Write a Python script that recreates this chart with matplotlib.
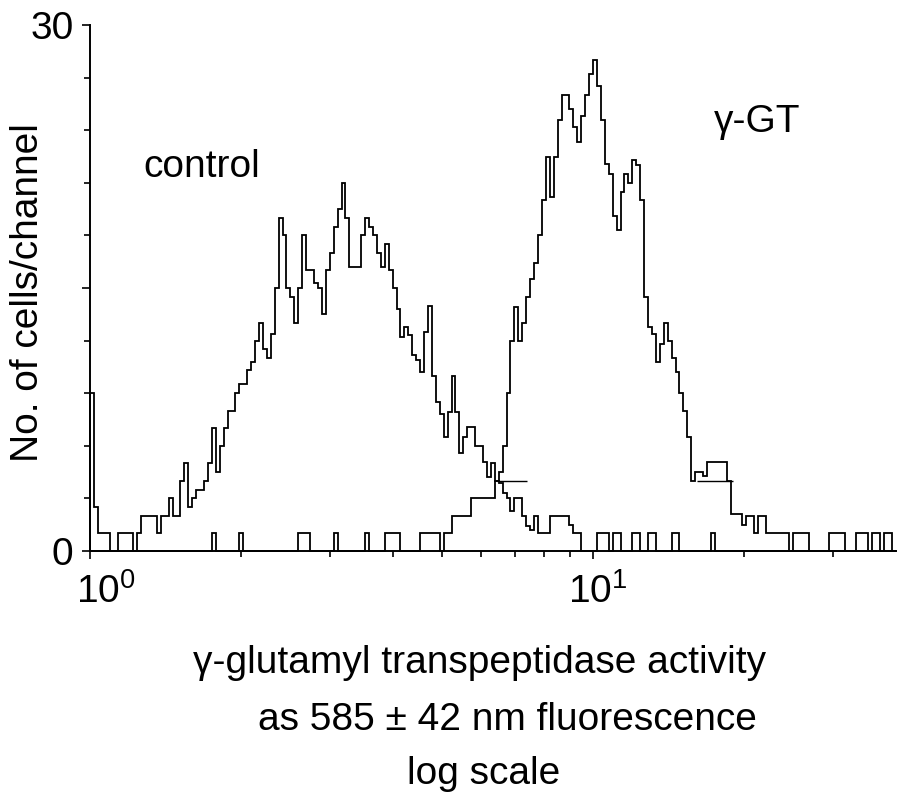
import numpy as np
import matplotlib
matplotlib.use('Agg')
import matplotlib.pyplot as plt
from matplotlib.transforms import ScaledTranslation

plt.rcParams['font.family'] = ['Liberation Sans', 'DejaVu Sans']
plt.rcParams['mathtext.fontset'] = 'custom'
plt.rcParams['mathtext.rm'] = 'Liberation Sans'

# --- histogram data, 128 channels per decade starting at 10^0
ch_per_decade = 128

control = [9, 2.5, 1, 1, 1, 0, 0, 1, 1, 1,
           1, 0, 1, 2, 2, 2, 2, 1, 2, 2,
           3, 2, 2, 4, 5, 2.5, 3, 3.5, 3.5, 4,
           5, 7, 4.5, 6, 7, 8, 8, 9, 9.5, 9.5,
           10.3, 10.8, 12, 13, 11.5, 11, 12.4, 15, 19, 18,
           15, 14.5, 13, 15, 18, 16, 16, 15.3, 15, 13.5,
           16, 17, 18.5, 19.5, 21, 19, 16.2, 16.2, 16.2, 18,
           19, 18.5, 18, 17, 16.2, 17.5, 16, 15, 13.8, 12.2,
           12.8, 12.3, 11.2, 10.9, 10.2, 12.5, 14, 10, 8.5, 7.8,
           6.5, 7.9, 10, 7.9, 5.6, 6.5, 7.1, 7.1, 6, 6,
           5.1, 4.2, 5, 4, 3.9, 3.3, 3, 2.3, 3, 3,
           2, 1.4, 1.2, 2, 1, 1, 1, 2, 2, 2,
           2, 2, 1.5, 1, 1, 0, 0, 0, 0, 1,
           1, 1, 0, 1, 1, 0, 0, 0, 1, 1,
           0, 0, 1, 1, 0, 0, 0, 0, 1, 1,
           0, 0, 0, 0, 0, 0, 0, 0, 1, 0,
           0, 0, 0, 0, 0, 0, 0, 0, 0, 0,
           0, 0, 0, 0, 0, 0, 0, 0, 0, 1,
           1, 1, 1, 0, 0, 0, 0, 0, 1, 1,
           1, 1, 0, 0, 0, 1, 1, 1, 0, 1,
           1, 0, 1, 1, 0]

ggt = [0, 0, 0, 0, 0, 0, 0, 0, 0, 0,
       0, 0, 0, 0, 0, 0, 0, 0, 0, 0,
       0, 0, 0, 0, 0, 0, 0, 0, 0, 0,
       0, 1, 0, 0, 0, 0, 0, 0, 1, 0,
       0, 0, 0, 0, 0, 0, 0, 0, 0, 0,
       0, 0, 0, 1, 1, 1, 0, 0, 0, 0,
       0, 0, 1, 0, 0, 0, 0, 0, 0, 0,
       1, 0, 0, 0, 0, 1, 1, 1, 1, 0,
       0, 0, 0, 0, 1, 1, 1, 1, 1, 0,
       1, 1, 2, 2, 2, 2, 2, 3, 3, 3,
       3, 3, 3, 4, 4.5, 6, 9, 12, 13.9, 12,
       13, 14.5, 15.5, 16.4, 18, 20, 22.5, 20.2, 22.5, 24.6,
       26, 26, 25.2, 24.2, 23.3, 24.8, 26, 27.2, 28, 26.5,
       24.6, 22.1, 21.5, 19.1, 18.3, 20.5, 21.5, 21, 22.3, 22,
       20, 14.5, 12.8, 12.4, 10.8, 11.8, 13, 12, 11, 10.2,
       9, 8, 6.5, 4, 4.5, 4.5, 4.3, 5.1, 5.1, 5.1,
       5.1, 5.1, 4, 2.1, 2.1, 2.1, 1.5, 2, 2, 1,
       2, 2, 1, 1, 1, 1, 1, 1, 0, 0,
       0, 0, 0, 0, 0, 0, 0, 0, 0, 0,
       0, 0, 0, 0, 0, 0, 0, 0, 0, 0,
       0, 0, 0, 0, 0]

# marker bars (level, from, to)
gate_level = [4, 4]
gate_lo = [6.45, 16.1]
gate_hi = [7.4, 19.0]

edges = 10 ** (np.arange(len(control) + 1) / ch_per_decade)

fig = plt.figure(figsize=(8.97, 7.93), dpi=100)
ax = fig.add_axes([90 / 897, 242 / 793, 1 - 90 / 897, 526 / 793])

ax.stairs(control, edges, baseline=0, color='black', lw=1.3, clip_on=False)
ax.stairs(ggt, edges, baseline=0, color='black', lw=1.3, clip_on=False)
ax.hlines(gate_level, gate_lo, gate_hi, color='black', lw=1.0)

ax.set_xscale('log')
ax.set_xlim(1, 10 ** ((897 - 90) / 503))
ax.set_ylim(0, 30)

ax.spines['top'].set_visible(False)
ax.spines['right'].set_visible(False)
ax.spines['left'].set_linewidth(1.4)
ax.spines['bottom'].set_linewidth(1.4)

ax.set_xticks([1, 10], labels=[r'$\mathregular{10^0}$', r'$\mathregular{10^1}$'])
ax.set_xticks([2, 3, 4, 5, 6, 7, 8, 9, 20, 30], minor=True)
ax.xaxis.set_minor_formatter(plt.NullFormatter())
ax.set_yticks([0, 15, 30], labels=['0', '', '30'])
ax.set_yticks(np.arange(3, 30, 3), minor=True)
ax.tick_params(axis='both', which='major', direction='out', length=6, width=1.2,
               labelsize=28)
ax.tick_params(axis='both', which='minor', direction='out', length=4, width=1.2)
ax.tick_params(axis='x', which='major', pad=8)
ax.tick_params(axis='y', which='major', pad=6)

# nudge the decade labels to the right, as in the original
for lab, dx in zip(ax.get_xticklabels(), [16, 5]):
    lab.set_transform(lab.get_transform() + ScaledTranslation(dx / 100, -3 / 100, fig.dpi_scale_trans))

def px(x, y):
    return x / 897, 1 - y / 793

fig.text(*px(28, 293), 'No. of cells/channel', fontsize=28, rotation=90,
         ha='center', va='center')
fig.text(*px(143, 177), 'control', fontsize=28, ha='left', va='baseline')
fig.text(*px(714, 132), 'γ-GT', fontsize=28, ha='left', va='baseline')
fig.text(*px(193, 673), 'γ-glutamyl transpeptidase activity', fontsize=28,
         ha='left', va='baseline')
fig.text(*px(258, 730), 'as 585 ± 42 nm fluorescence', fontsize=28,
         ha='left', va='baseline')
fig.text(*px(407, 784), 'log scale', fontsize=28, ha='left', va='baseline')

fig.savefig('out.png', dpi=100)
